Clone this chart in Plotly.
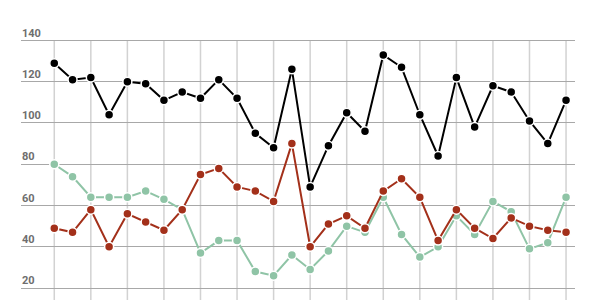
import plotly.graph_objects as go

x_index = list(range(29))
black_values = [129, 121, 122, 104, 120, 119, 111, 115, 112, 121, 112, 95, 88, 126,
                69, 89, 105, 96, 133, 127, 104, 84, 122, 98, 118, 115, 101, 90, 111]
red_values = [49, 47, 58, 40, 56, 52, 48, 58, 75, 78, 69, 67, 62, 90,
              40, 51, 55, 49, 67, 73, 64, 43, 58, 49, 44, 54, 50, 48, 47]
green_values = [80, 74, 64, 64, 64, 67, 63, 58, 37, 43, 43, 28, 26, 36,
                29, 38, 50, 47, 64, 46, 35, 40, 55, 46, 62, 57, 39, 42, 64]
y_ticks = [20, 40, 60, 80, 100, 120, 140]

series = [
    ("green", green_values, "#8fc4a6"),
    ("red", red_values, "#a3301a"),
    ("black", black_values, "#000000"),
]

y_min, y_max = 14.2, 147.5
fig = go.Figure()

# vertical grid lines, from bottom of plot up to the top tick
for xi in x_index[::2]:
    fig.add_shape(type="line", xref="x", yref="y", x0=xi, x1=xi, y0=y_min, y1=y_ticks[-1],
                  line=dict(color="#d2d2d2", width=1.5), layer="below")

for name, vals, color in series:
    fig.add_trace(go.Scatter(
        x=x_index, y=vals, mode="lines+markers", name=name,
        line=dict(color=color, width=2),
        marker=dict(color=color, size=9, line=dict(color="white", width=1.5)),
        showlegend=False, hoverinfo="skip",
    ))

fig.update_layout(
    width=611, height=300,
    margin=dict(l=21, r=36, t=25, b=0),
    paper_bgcolor="white", plot_bgcolor="white",
    font=dict(family="Roboto", size=11, color="#666666"),
    xaxis=dict(range=[-1.82, 28.49], showticklabels=False, showgrid=False,
               zeroline=False, showline=False, ticks=""),
    yaxis=dict(range=[y_min, y_max], tickvals=y_ticks, ticktext=[str(v) for v in y_ticks],
               showgrid=True, gridcolor="#a8a8a8", gridwidth=1,
               zeroline=False, showline=False, ticks="",
               ticklabelposition="inside top", ticklabelstandoff=-2,
               tickfont=dict(family="Roboto", size=11, color="#6e6e6e", weight="bold")),
)

fig.write_html("out.html")
